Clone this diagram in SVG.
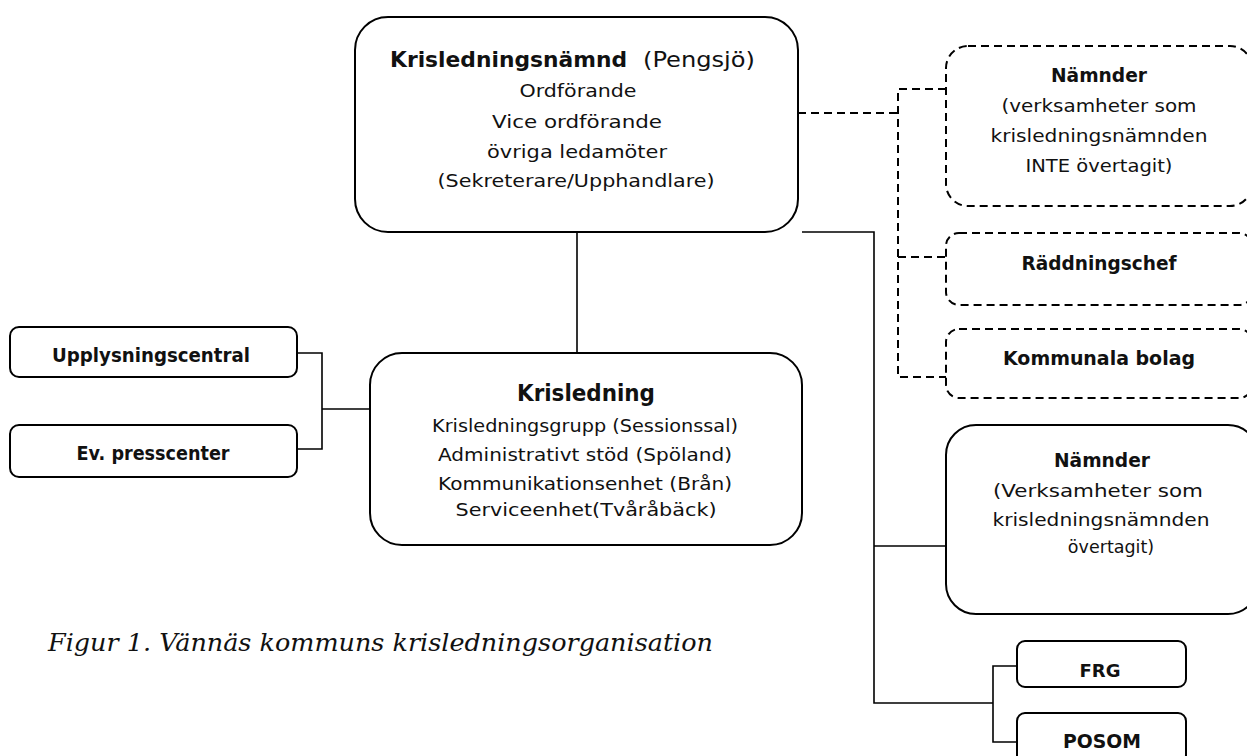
<svg xmlns="http://www.w3.org/2000/svg" width="1247" height="756" viewBox="0 0 1247 756">
<style>
  .box{fill:#fff;stroke:#000;stroke-width:2}
  .dbox{fill:#fff;stroke:#000;stroke-width:2;stroke-dasharray:8 5}
  .ln{fill:none;stroke:#000;stroke-width:1.6}
  .dln{fill:none;stroke:#000;stroke-width:2;stroke-dasharray:8 5}
  text{font-family:"DejaVu Sans","Liberation Sans",sans-serif;fill:#111}
  .t{font-size:17.5px;text-anchor:middle}
  .b{font-size:19px;font-weight:bold;text-anchor:middle}
  .cap{font-family:"DejaVu Serif","Liberation Serif",serif;font-style:italic;font-size:24px}
</style>
<rect width="1247" height="756" fill="#fff"/>
<g id="connectors">
  <path class="ln" d="M577,232 V353"/>
  <path class="ln" d="M802,232 H874 V703 H993"/>
  <path class="ln" d="M874,546 H946"/>
  <path class="ln" d="M1017,666 H993 V742 H1017"/>
  <path class="ln" d="M297,353 H322 V449 H297"/>
  <path class="ln" d="M322,409 H370"/>
  <path class="dln" d="M798,113 H898"/>
  <path class="dln" d="M946,89 H898 V377 H946"/>
  <path class="dln" d="M898,257 H946"/>
</g>
<g id="krisledningsnamnd">
  <rect class="box" x="355" y="17" width="443" height="215" rx="33"/>
  <text x="390" y="67" font-size="22" font-weight="bold" textLength="237" lengthAdjust="spacingAndGlyphs">Krisledningsnämnd</text>
  <text x="643" y="67" font-size="22" textLength="112" lengthAdjust="spacingAndGlyphs">(Pengsjö)</text>
  <text class="t" x="578" y="97" textLength="117" lengthAdjust="spacingAndGlyphs">Ordförande</text>
  <text class="t" x="577" y="128" textLength="170" lengthAdjust="spacingAndGlyphs">Vice ordförande</text>
  <text class="t" x="577" y="158" textLength="180" lengthAdjust="spacingAndGlyphs">övriga ledamöter</text>
  <text class="t" x="576" y="187" textLength="277" lengthAdjust="spacingAndGlyphs">(Sekreterare/Upphandlare)</text>
</g>
<g id="krisledning">
  <rect class="box" x="370" y="353" width="432" height="192" rx="32"/>
  <text x="586" y="401" font-size="23" font-weight="bold" text-anchor="middle" textLength="138" lengthAdjust="spacingAndGlyphs">Krisledning</text>
  <text class="t" x="585" y="432" textLength="306" lengthAdjust="spacingAndGlyphs">Krisledningsgrupp (Sessionssal)</text>
  <text class="t" x="585" y="461" textLength="294" lengthAdjust="spacingAndGlyphs">Administrativt stöd (Spöland)</text>
  <text class="t" x="585" y="490" textLength="294" lengthAdjust="spacingAndGlyphs">Kommunikationsenhet (Brån)</text>
  <text class="t" x="586" y="516" textLength="261" lengthAdjust="spacingAndGlyphs">Serviceenhet(Tvåråbäck)</text>
</g>
<g id="upplysningscentral">
  <rect class="box" x="10" y="327" width="287" height="50" rx="9"/>
  <text class="b" x="151" y="362" textLength="198" lengthAdjust="spacingAndGlyphs">Upplysningscentral</text>
</g>
<g id="presscenter">
  <rect class="box" x="10" y="425" width="287" height="52" rx="9"/>
  <text class="b" x="153" y="460" textLength="153" lengthAdjust="spacingAndGlyphs">Ev. presscenter</text>
</g>
<g id="namnder-inte">
  <rect class="dbox" x="946" y="46" width="306" height="160" rx="22"/>
  <text class="b" x="1099" y="82" textLength="96" lengthAdjust="spacingAndGlyphs">Nämnder</text>
  <text class="t" x="1099" y="112" textLength="195" lengthAdjust="spacingAndGlyphs">(verksamheter som</text>
  <text class="t" x="1099" y="142" textLength="217" lengthAdjust="spacingAndGlyphs">krisledningsnämnden</text>
  <text class="t" x="1099" y="172" textLength="147" lengthAdjust="spacingAndGlyphs">INTE övertagit)</text>
</g>
<g id="raddningschef">
  <rect class="dbox" x="946" y="233" width="306" height="72" rx="13"/>
  <text class="b" x="1099" y="270" textLength="155" lengthAdjust="spacingAndGlyphs">Räddningschef</text>
</g>
<g id="kommunala-bolag">
  <rect class="dbox" x="946" y="329" width="306" height="69" rx="13"/>
  <text class="b" x="1099" y="365" textLength="192" lengthAdjust="spacingAndGlyphs">Kommunala bolag</text>
</g>
<g id="namnder-overtagit">
  <rect class="box" x="946" y="425" width="312" height="189" rx="30"/>
  <text class="b" x="1102" y="467" textLength="96" lengthAdjust="spacingAndGlyphs">Nämnder</text>
  <text class="t" x="1098" y="497" textLength="210" lengthAdjust="spacingAndGlyphs">(Verksamheter som</text>
  <text class="t" x="1101" y="526" textLength="217" lengthAdjust="spacingAndGlyphs">krisledningsnämnden</text>
  <text class="t" x="1111" y="553">övertagit)</text>
</g>
<g id="frg">
  <rect class="box" x="1017" y="641" width="169" height="46" rx="8"/>
  <text class="b" x="1100" y="677" style="font-size:18px">FRG</text>
</g>
<g id="posom">
  <rect class="box" x="1017" y="713" width="169" height="50" rx="8"/>
  <text class="b" x="1102" y="748" textLength="78" lengthAdjust="spacingAndGlyphs">POSOM</text>
</g>
<text class="cap" x="48" y="651" textLength="665" lengthAdjust="spacingAndGlyphs">Figur 1. Vännäs kommuns krisledningsorganisation</text>
</svg>
